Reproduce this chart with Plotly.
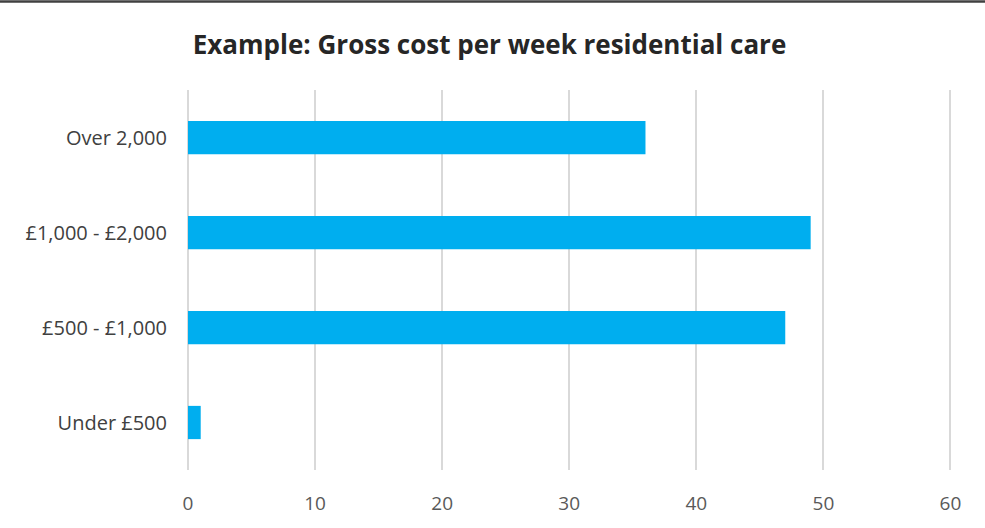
import plotly.graph_objects as go

categories = ["Under £500", "£500 - £1,000", "£1,000 - £2,000", "Over 2,000"]
values = [1, 47, 49, 36]
x_ticks = [0, 10, 20, 30, 40, 50, 60]

W, H = 985, 528
L, R, T, B = 188, 32, 90, 58

fig = go.Figure(go.Bar(
    y=categories, x=values, orientation="h",
    marker=dict(color="#00AEEF", line=dict(width=0)),
    width=0.35,
))

plot_w = W - L - R
plot_h = H - T - B

fig.update_layout(
    width=W, height=H,
    margin=dict(l=L, r=R, t=T, b=B, pad=0),
    paper_bgcolor="white", plot_bgcolor="white",
    title=dict(text="<b>Example: Gross cost per week residential care</b>",
               x=0.497, xanchor="center", y=1 - 45 / H, yanchor="middle",
               font=dict(family="Open Sans, sans-serif", size=26, color="#262626")),
    font=dict(family="Open Sans, sans-serif", size=18, color="#595959"),
    showlegend=False,
    xaxis=dict(range=[0, 60.2], tickvals=x_ticks, showgrid=True, gridcolor="#D9D9D9",
               gridwidth=1.5, zeroline=True, zerolinecolor="#D9D9D9", zerolinewidth=1.5,
               showline=False, ticks="", ticklabelstandoff=20,
               tickfont=dict(size=19, color="#595959")),
    yaxis=dict(showgrid=False, zeroline=False, showline=False, ticks="",
               ticklabelstandoff=20, tickfont=dict(size=20, color="#404040")),
    shapes=[dict(type="line", xref="paper", yref="paper",
                 x0=-L / plot_w, x1=(W - L) / plot_w,
                 y0=1 + (T - 1.5) / plot_h, y1=1 + (T - 1.5) / plot_h,
                 line=dict(color="#404040", width=2.5))],
)

fig.write_html("out.html")
